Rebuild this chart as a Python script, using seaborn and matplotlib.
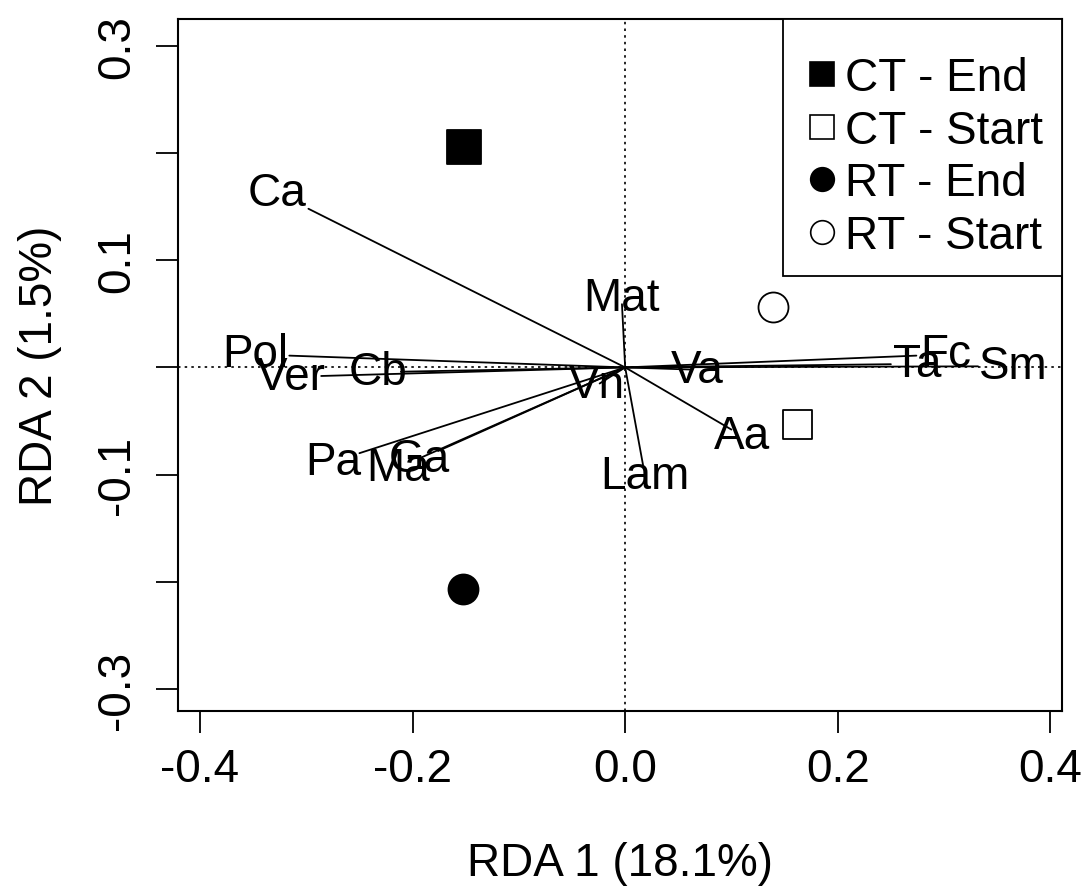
import matplotlib
matplotlib.use("Agg")
import matplotlib.pyplot as plt
import seaborn as sns
import pandas as pd
import numpy as np
from matplotlib.lines import Line2D
from matplotlib.patches import Rectangle

# ---- data ----
site_groups = ["CT - End", "CT - Start", "RT - End", "RT - Start"]
site_x = [-0.152, 0.162, -0.153, 0.139]
site_y = [0.206, -0.053, -0.207, 0.056]

species = ["Ca", "Mat", "Pol", "Ver", "Cb", "Vn", "Va", "Pa", "Ma", "Ga",
           "Lam", "Aa", "Ta", "Fc", "Sm"]
sp_x = [-0.298, -0.003, -0.316, -0.286, -0.211, -0.024, 0.062, -0.250,
        -0.194, -0.176, 0.017, 0.100, 0.250, 0.274, 0.332]
sp_y = [0.148, 0.059, 0.011, -0.008, -0.004, -0.015, -0.002, -0.080,
        -0.085, -0.078, -0.092, -0.058, 0.003, 0.011, 0.001]
label_mult = 1.1

x_ticks = [-0.4, -0.2, 0.0, 0.2, 0.4]
y_ticks = [-0.3, -0.2, -0.1, 0.0, 0.1, 0.2, 0.3]
y_tick_labels = ["-0.3", "", "-0.1", "", "0.1", "", "0.3"]
x_label = "RDA 1 (18.1%)"
y_label = "RDA 2 (1.5%)"

# ---- style ----
sns.set_style("ticks")
plt.rcParams['font.family'] = ['Liberation Sans', 'DejaVu Sans']
plt.rcParams['text.color'] = 'black'
plt.rcParams['axes.labelcolor'] = 'black'
plt.rcParams['xtick.color'] = 'black'
plt.rcParams['ytick.color'] = 'black'
FS = 33

fig = plt.figure(figsize=(10.85, 8.87), dpi=100)
ax = fig.add_axes([178/1085, 1-712/887, (1062-178)/1085, (712-20)/887])

ax.axhline(0, color="black", lw=1.2, ls=(0, (1.5, 2.5)), zorder=1)
ax.axvline(0, color="black", lw=1.2, ls=(0, (1.5, 2.5)), zorder=1)

for sx, sy, name in zip(sp_x, sp_y, species):
    ax.plot([0, sx], [0, sy], color="black", lw=1.3, zorder=2)
    ax.text(sx*label_mult, sy*label_mult, name, fontsize=FS, ha="center",
            va="center", zorder=3)

df = pd.DataFrame({"x": site_x, "y": site_y, "group": site_groups})
markers = {"CT - End": "s", "CT - Start": "s", "RT - End": "o", "RT - Start": "o"}
faces = {"CT - End": "black", "CT - Start": "white", "RT - End": "black", "RT - Start": "white"}
sizes = {"CT - End": 34, "CT - Start": 29, "RT - End": 30, "RT - Start": 30}
for g in site_groups:
    sub = df[df.group == g]
    sns.scatterplot(data=sub, x="x", y="y", marker=markers[g], s=(sizes[g]*0.72)**2,
                    color=faces[g], edgecolor="black", linewidth=1.3, ax=ax,
                    legend=False, zorder=4)

ax.set_xlim(-0.4207, 0.411)
ax.set_ylim(-0.3205, 0.325)
ax.set_xticks(x_ticks)
ax.set_xticklabels([f"{v:.1f}" for v in x_ticks], fontsize=FS)
ax.set_yticks(y_ticks)
ax.set_yticklabels(y_tick_labels, fontsize=FS, rotation=90, va="center")
ax.tick_params(axis="both", length=16, width=1.3, direction="out", colors="black")
ax.tick_params(axis="x", pad=10)
ax.tick_params(axis="y", pad=12)
for sp in ax.spines.values():
    sp.set_visible(True)
    sp.set_linewidth(1.5)
    sp.set_color("black")
ax.set_xlabel(x_label, fontsize=FS, labelpad=36)
ax.set_ylabel(y_label, fontsize=FS, labelpad=24)

# legend box (frame drawn as rectangle to match R legend spacing)
W, H = 884, 692
lx0 = (783 - 178) / W
ly0 = (712 - 277) / H
ax.add_patch(Rectangle((lx0, ly0), 1 - lx0, 1 - ly0, transform=ax.transAxes,
                       facecolor="white", edgecolor="black", lw=1.3, zorder=5,
                       clip_on=False))
handles = [Line2D([], [], marker=markers[g], ls="none", markersize=17,
                  markerfacecolor=faces[g], markeredgecolor="black",
                  markeredgewidth=1.2) for g in site_groups]
leg = ax.legend(handles, site_groups, loc="upper left",
                bbox_to_anchor=((808 - 178) / W, (712 - 57) / H),
                fontsize=FS, frameon=False, borderaxespad=0, borderpad=0,
                handlelength=0.6, handletextpad=0.2, labelspacing=0.19)
leg.set_zorder(6)

fig.savefig("out.png", dpi=100)
